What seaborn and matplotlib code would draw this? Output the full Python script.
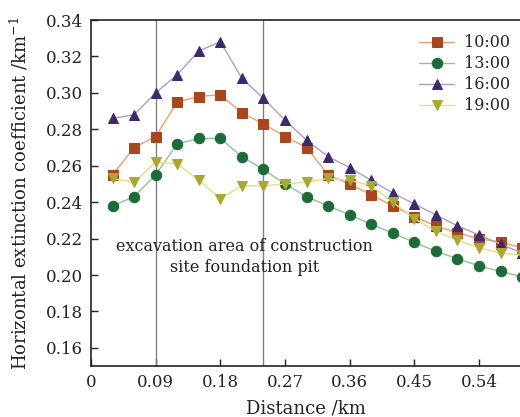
import numpy as np
import pandas as pd
import seaborn as sns
import matplotlib
matplotlib.use("Agg")
import matplotlib.pyplot as plt

distance = [0.03, 0.06, 0.09, 0.12, 0.15, 0.18, 0.21, 0.24, 0.27, 0.30,
            0.33, 0.36, 0.39, 0.42, 0.45, 0.48, 0.51, 0.54, 0.57, 0.60]
v1000 = [0.255, 0.270, 0.276, 0.295, 0.298, 0.299, 0.289, 0.283, 0.276, 0.270,
         0.255, 0.250, 0.244, 0.238, 0.232, 0.227, 0.223, 0.220, 0.218, 0.215]
v1300 = [0.238, 0.243, 0.255, 0.272, 0.275, 0.275, 0.265, 0.258, 0.250, 0.243,
         0.238, 0.233, 0.228, 0.223, 0.218, 0.213, 0.209, 0.205, 0.202, 0.199]
v1600 = [0.286, 0.288, 0.300, 0.310, 0.323, 0.328, 0.308, 0.297, 0.285, 0.274,
         0.265, 0.259, 0.252, 0.245, 0.239, 0.233, 0.227, 0.222, 0.217, 0.212]
v1900 = [0.253, 0.251, 0.262, 0.261, 0.252, 0.242, 0.249, 0.249, 0.250, 0.251,
         0.253, 0.252, 0.249, 0.240, 0.231, 0.224, 0.219, 0.215, 0.212, 0.211]
labels = ["10:00", "13:00", "16:00", "19:00"]
x_ticks = [0, 0.09, 0.18, 0.27, 0.36, 0.45, 0.54]
y_ticks = [0.16, 0.18, 0.20, 0.22, 0.24, 0.26, 0.28, 0.30, 0.32, 0.34]
pit_bounds = [0.09, 0.24]

sns.set_theme(style="white")
plt.rcParams['font.family'] = ['DejaVu Serif']
plt.rcParams['mathtext.fontset'] = 'dejavuserif'

fig = plt.figure(figsize=(5.2, 4.17), dpi=100)
ax = fig.add_axes([0.175, 0.122, 0.825, 0.830])

series = [v1000, v1300, v1600, v1900]
markers = ["s", "o", "^", "v"]
face = ["#a8461e", "#1c6b38", "#3e2a6a", "#a8a832"]
linec = ["#e8a070", "#8cc49a", "#a8a0c8", "#e0e08a"]

for vals, lab, m, fc, lc in zip(series, labels, markers, face, linec):
    df = pd.DataFrame({"d": distance, "v": vals})
    sns.lineplot(data=df, x="d", y="v", ax=ax, color=lc, linewidth=1.0,
                 marker=m, markersize=7.5, markerfacecolor=fc,
                 markeredgecolor=fc, label=lab, zorder=3)

for b in pit_bounds:
    ax.axvline(b, color="#808080", linewidth=1.0, zorder=1)

ax.set_xlim(0, 0.597)
ax.set_ylim(0.15, 0.34)
ax.set_xticks(x_ticks)
ax.set_xticklabels(["0" if t == 0 else f"{t:.2f}" for t in x_ticks])
ax.set_yticks(y_ticks)
ax.set_yticklabels([f"{t:.2f}" for t in y_ticks])
ax.tick_params(direction="in", length=5, width=1, labelsize=12, colors="#222222",
               bottom=True, left=True, top=False, right=False, pad=6)
for s in ["left", "bottom", "top"]:
    ax.spines[s].set_color("#222222")
    ax.spines[s].set_linewidth(1.2)
ax.spines["right"].set_visible(False)

ax.set_xlabel("Distance /km", fontsize=13, color="#222222", labelpad=6)
ax.set_ylabel(r"Horizontal extinction coefficient /km$^{-1}$", fontsize=13,
              color="#222222", labelpad=11)

ax.text(0.214, 0.210, "excavation area of construction\nsite foundation pit",
        ha="center", va="center", fontsize=11.5, color="#222222",
        linespacing=1.35)

ax.legend(loc="upper right", frameon=False, fontsize=11.5, handlelength=2.2,
          bbox_to_anchor=(1.01, 1.0), labelspacing=0.25, handletextpad=0.6)

fig.savefig("out.png", dpi=100)
